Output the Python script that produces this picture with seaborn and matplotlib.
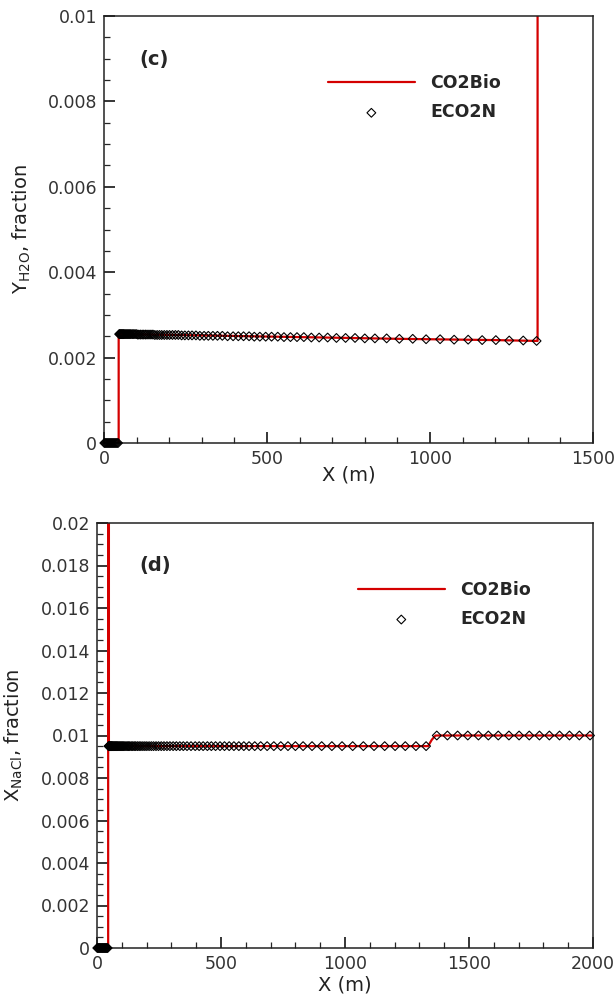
import matplotlib
matplotlib.use("Agg")
import matplotlib.pyplot as plt
import seaborn as sns
from matplotlib.ticker import MultipleLocator

# ECO2N grid points (m): dry-out zone and two-phase zone
x_dry = [1, 4, 7, 10, 13, 16, 19, 22, 25, 28, 31, 34, 37, 40, 43]
x_2ph = [46.5, 48, 50, 52, 54, 56, 58, 60, 62, 65,
         68, 71, 74, 77, 80, 83, 87, 91, 95, 99,
         103, 107, 112, 117, 122, 127, 132, 138, 144, 150,
         156, 163, 170, 177, 185, 193, 201, 210, 219, 228,
         238, 248, 259, 270, 282, 294, 307, 320, 334, 348,
         363, 379, 396, 412, 428, 445, 461, 478, 496, 514,
         533, 552, 572, 592, 613, 636, 660, 686, 713, 741,
         770, 800, 831, 867, 906, 947, 988, 1031, 1074, 1117,
         1160, 1202, 1243, 1286, 1327]
x_1ph = [1370, 1413, 1454, 1495, 1538, 1578, 1618, 1661, 1702, 1743,
         1784, 1824, 1865, 1905, 1945, 1988]

# (c) Y_H2O from ECO2N
yh2o_dry = [0, 0, 0, 0, 0, 0, 0, 0, 0, 0, 0, 0, 0, 0, 0]
yh2o_2ph = [0.00255, 0.00255, 0.00255, 0.00255, 0.00255, 0.00255, 0.00255, 0.00255, 0.00255, 0.00255,
            0.00255, 0.00255, 0.00255, 0.00255, 0.00255, 0.00255, 0.00255, 0.00255, 0.00255, 0.00255,
            0.00254, 0.00254, 0.00254, 0.00254, 0.00254, 0.00254, 0.00254, 0.00254, 0.00254, 0.00254,
            0.00253, 0.00253, 0.00253, 0.00253, 0.00253, 0.00253, 0.00253, 0.00253, 0.00253, 0.00253,
            0.00252, 0.00252, 0.00252, 0.00252, 0.00252, 0.00251, 0.00251, 0.00251, 0.00251, 0.00251,
            0.00251, 0.00250, 0.00250, 0.00250, 0.00250, 0.00250, 0.00249, 0.00249, 0.00249, 0.00249,
            0.00249, 0.00248, 0.00248, 0.00248, 0.00248, 0.00247, 0.00247, 0.00247, 0.00246, 0.00246,
            0.00246, 0.00245, 0.00245, 0.00245, 0.00244, 0.00244, 0.00243, 0.00243, 0.00242, 0.00242,
            0.00241, 0.00241, 0.00240, 0.00240, 0.00239]

# (c) Y_H2O from CO2Bio
bio_c_x = [0, 45, 45, 300, 600, 900, 1200, 1330, 1330]
bio_c_y = [0, 0, 0.00255, 0.00252, 0.00248, 0.00244, 0.00241, 0.00239, 0.05]

# (d) X_NaCl from ECO2N
xnacl_dry = [0, 0, 0, 0, 0, 0, 0, 0, 0, 0, 0, 0, 0, 0, 0]
xnacl_2ph = [0.0095, 0.0095, 0.0095, 0.0095, 0.0095, 0.0095, 0.0095, 0.0095, 0.0095, 0.0095,
             0.0095, 0.0095, 0.0095, 0.0095, 0.0095, 0.0095, 0.0095, 0.0095, 0.0095, 0.0095,
             0.0095, 0.0095, 0.0095, 0.0095, 0.0095, 0.0095, 0.0095, 0.0095, 0.0095, 0.0095,
             0.0095, 0.0095, 0.0095, 0.0095, 0.0095, 0.0095, 0.0095, 0.0095, 0.0095, 0.0095,
             0.0095, 0.0095, 0.0095, 0.0095, 0.0095, 0.0095, 0.0095, 0.0095, 0.0095, 0.0095,
             0.0095, 0.0095, 0.0095, 0.0095, 0.0095, 0.0095, 0.0095, 0.0095, 0.0095, 0.0095,
             0.0095, 0.0095, 0.0095, 0.0095, 0.0095, 0.0095, 0.0095, 0.0095, 0.0095, 0.0095,
             0.0095, 0.0095, 0.0095, 0.0095, 0.0095, 0.0095, 0.0095, 0.0095, 0.0095, 0.0095,
             0.0095, 0.0095, 0.0095, 0.0095, 0.0095]
xnacl_1ph = [0.01, 0.01, 0.01, 0.01, 0.01, 0.01, 0.01, 0.01, 0.01, 0.01,
             0.01, 0.01, 0.01, 0.01, 0.01, 0.01]

# (d) X_NaCl from CO2Bio
bio_d_x = [0, 45, 45, 48, 48, 1335, 1350, 1365, 2000]
bio_d_y = [0, 0, 0.05, 0.05, 0.0095, 0.0095, 0.0098, 0.01, 0.01]

RED = "#d40000"

sns.set_style("ticks")
plt.rcParams["font.family"] = ["DejaVu Sans"]
plt.rcParams["axes.linewidth"] = 1.1

fig = plt.figure(figsize=(6.16, 10), dpi=100)
ax1 = fig.add_axes([104 / 616, 1 - 443 / 1000, 489 / 616, 427 / 1000])
ax2 = fig.add_axes([97 / 616, 1 - 948 / 1000, 496 / 616, 425 / 1000])


def draw(ax, bx, by, ex, ey, xmax, ymax, ymajor, ylabel, tag, leg_xy, tag_xy):
    sns.lineplot(x=bx, y=by, sort=False, estimator=None, color=RED, lw=1.6,
                 ax=ax, label="CO2Bio", zorder=2)
    sns.scatterplot(x=ex, y=ey, marker="D", s=20, facecolor="none",
                    edgecolor="black", linewidth=0.8, ax=ax, label="ECO2N",
                    zorder=3, clip_on=False)
    ax.set_xlim(0, xmax)
    ax.set_ylim(0, ymax)
    ax.xaxis.set_major_locator(MultipleLocator(500))
    ax.xaxis.set_minor_locator(MultipleLocator(100))
    ax.yaxis.set_major_locator(MultipleLocator(ymajor))
    ax.yaxis.set_minor_locator(MultipleLocator(0.0005))
    ax.yaxis.set_major_formatter(plt.FuncFormatter(lambda v, p: f"{v:g}"))
    ax.tick_params(which="major", direction="in", length=8, width=1.1,
                   labelsize=12.5, pad=5, colors="black")
    ax.tick_params(which="minor", direction="in", length=4.5, width=0.9)
    ax.tick_params(axis="both", labelcolor="#333333")
    ax.set_xlabel("X (m)", fontsize=14, labelpad=2, color="#222222")
    ax.set_ylabel(ylabel, fontsize=14, color="#222222")
    for s in ax.spines.values():
        s.set_visible(True)
        s.set_color("#222222")
    ax.text(tag_xy[0], tag_xy[1], tag, transform=ax.transAxes,
            fontsize=14, fontweight="bold", va="center", ha="left")
    leg = ax.legend(loc="upper left", bbox_to_anchor=leg_xy, frameon=False,
                    handlelength=5.0, handletextpad=0.9, borderpad=0,
                    borderaxespad=0, labelspacing=0.65,
                    prop={"weight": "bold", "size": 12.5})
    return leg


draw(ax1, bio_c_x, bio_c_y, x_dry + x_2ph, yh2o_dry + yh2o_2ph,
     1500, 0.01, 0.002, r"Y$_{\mathregular{H2O}}$, fraction", "(c)",
     (0.458, 0.864), (0.072, 0.897))
draw(ax2, bio_d_x, bio_d_y, x_dry + x_2ph + x_1ph,
     xnacl_dry + xnacl_2ph + xnacl_1ph,
     2000, 0.02, 0.002, r"X$_{\mathregular{NaCl}}$, fraction", "(d)",
     (0.526, 0.864), (0.085, 0.899))

ax1.xaxis.labelpad = -2
ax1.yaxis.set_label_coords(-0.145, 0.5)
ax2.yaxis.set_label_coords(-0.145, 0.5)

fig.savefig("out.png", dpi=100)
